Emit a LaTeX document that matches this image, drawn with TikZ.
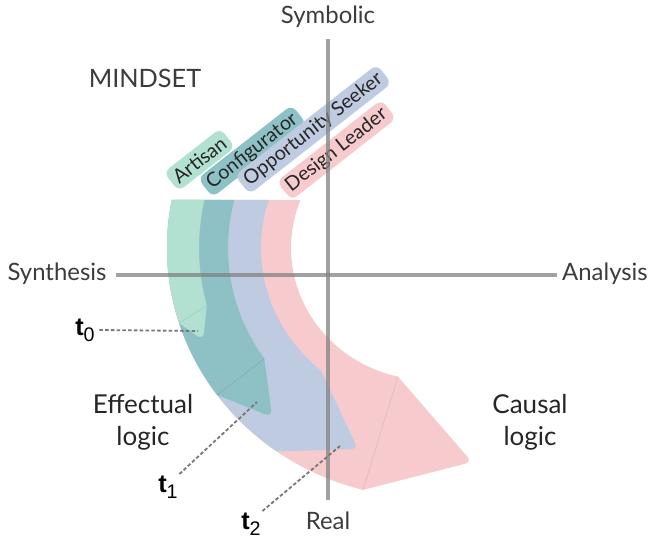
\documentclass[tikz,border=0pt]{standalone}
\usepackage{fontspec}
\setmainfont{Lato}
\newfontfamily\tfont{Liberation Sans}
\usetikzlibrary{calc}

\definecolor{artisan}{RGB}{179,225,209}
\definecolor{config}{RGB}{141,193,197}
\definecolor{seeker}{RGB}{191,203,225}
\definecolor{leader}{RGB}{247,203,205}
\definecolor{axisgray}{RGB}{130,130,130}
\definecolor{labelgray}{RGB}{60,60,60}
\definecolor{dotgray}{RGB}{120,120,120}

\begin{document}
\begin{tikzpicture}[
        x=0.025cm, y=0.025cm,
        seam/.style={draw=black, opacity=0.07, line width=0.6pt},
        axis/.style={draw=axisgray, line width=2.2pt, opacity=0.75},
        axislabel/.style={font=\fontsize{17}{20}\selectfont, text=labelgray},
        logic/.style={font=\fontsize{18.5}{23}\selectfont, text=black!85, align=center},
        tab/.style={rotate=38, anchor=west, rounded corners=5pt, minimum height=0.6cm, inner xsep=3.5pt, inner ysep=0pt, font=\fontsize{14}{16}\selectfont, text=black!85},
        tlabel/.style={font=\tfont\fontsize{18}{20}\selectfont, inner sep=1pt},
        tline/.style={draw=dotgray, line width=1.3pt, dash pattern=on 2.5pt off 1.6pt}
    ]

    \useasboundingbox (0,0) rectangle (649,543);
    \coordinate (C) at (429,295);

    \coordinate (leadertip) at (472,81);
    \coordinate (seekertip) at (358,94);
    \coordinate (configtip) at (272,126);
    \coordinate (artisantip) at (203,203);

    % bands, innermost first
    \fill[leader] ($(C)+(168.9:262 and 250)$) arc[start angle=168.9, end angle=255.4, x radius=262, y radius=250]
        [rounded corners=5pt] -- (leadertip) [sharp corners] -- ($(C)+(257:138 and 132)$)
        arc[start angle=257, end angle=158.7, x radius=138, y radius=132] -- cycle;
    \draw[seam] ($(C)+(255.4:262 and 250)$) -- ($(C)+(257:138 and 132)$);

    \fill[seeker] ($(C)+(168.9:262 and 250)$) arc[start angle=168.9, end angle=234.5, x radius=262, y radius=250]
        [rounded corners=5pt] -- (seekertip) [sharp corners] -- ($(C)+(230:168 and 160)$)
        arc[start angle=230, end angle=162.5, x radius=168, y radius=160] -- cycle;

    \fill[config] ($(C)+(168.9:262 and 250)$) arc[start angle=168.9, end angle=216, x radius=262, y radius=250]
        [rounded corners=5pt] -- (configtip) [sharp corners] -- ($(C)+(215:201 and 193)$)
        arc[start angle=215, end angle=165.6, x radius=201, y radius=193] -- cycle;
    \draw[seam] ($(C)+(216:262 and 250)$) -- ($(C)+(215:201 and 193)$);

    \fill[artisan] ($(C)+(168.9:262 and 250)$) arc[start angle=168.9, end angle=197.5, x radius=262, y radius=250]
        [rounded corners=5pt] -- (artisantip) [sharp corners] -- ($(C)+(195:230 and 222)$)
        arc[start angle=195, end angle=167.5, x radius=230, y radius=222] -- cycle;
    \draw[seam] ($(C)+(197.5:262 and 250)$) -- ($(C)+(195:230 and 222)$);

    % mindset tabs
    \node[tab, fill=artisan] (artisan) at (171,361) {Artisan};
    \node[tab, fill=config] (configurator) at (205,355) {Configurator};
    \node[tab, fill=seeker] (seeker) at (242,358) {Opportunity Seeker};
    \node[tab, fill=leader] (leader) at (284,352) {Design Leader};

    % axes
    \node[axislabel] (symbolic) at (328,526) {Symbolic};
    \node[axislabel] (real) at (328,22) {Real};
    \node[axislabel] (synthesis) at (57,269) {Synthesis};
    \node[axislabel] (analysis) at (605,269) {Analysis};
    \draw[axis] (symbolic.south) ++(0,-6) coordinate (vtop) -- (real.north |- 0,43) coordinate (vbot);
    \draw[axis] (synthesis.east) ++(5,-1) coordinate (hleft) -- (analysis.west |- 0,268) coordinate (hright);

    \node[axislabel, font=\fontsize{18}{20}\selectfont] (mindset) at (145,465) {MINDSET};
    \node[logic] (effectual) at (143,121) {Effectual\\logic};
    \node[logic] (causal) at (530,121) {Causal\\logic};

    % time marks
    \node[tlabel] (t0) at (85,213) {\textbf{t}\raisebox{-0.45ex}{\fontsize{14}{14}\selectfont 0}};
    \node[tlabel] (t1) at (168,56) {\textbf{t}\raisebox{-0.45ex}{\fontsize{14}{14}\selectfont 1}};
    \node[tlabel] (t2) at (251,19) {\textbf{t}\raisebox{-0.45ex}{\fontsize{14}{14}\selectfont 2}};
    \coordinate (m0) at (198,212);
    \coordinate (m1) at (257,141);
    \coordinate (m2) at (340,97);
    \draw[tline] (t0.east) ++(3,0) -- (m0);
    \draw[tline] (t1.north east) -- (m1);
    \draw[tline] (t2.north east) -- (m2);

\end{tikzpicture}
\end{document}
